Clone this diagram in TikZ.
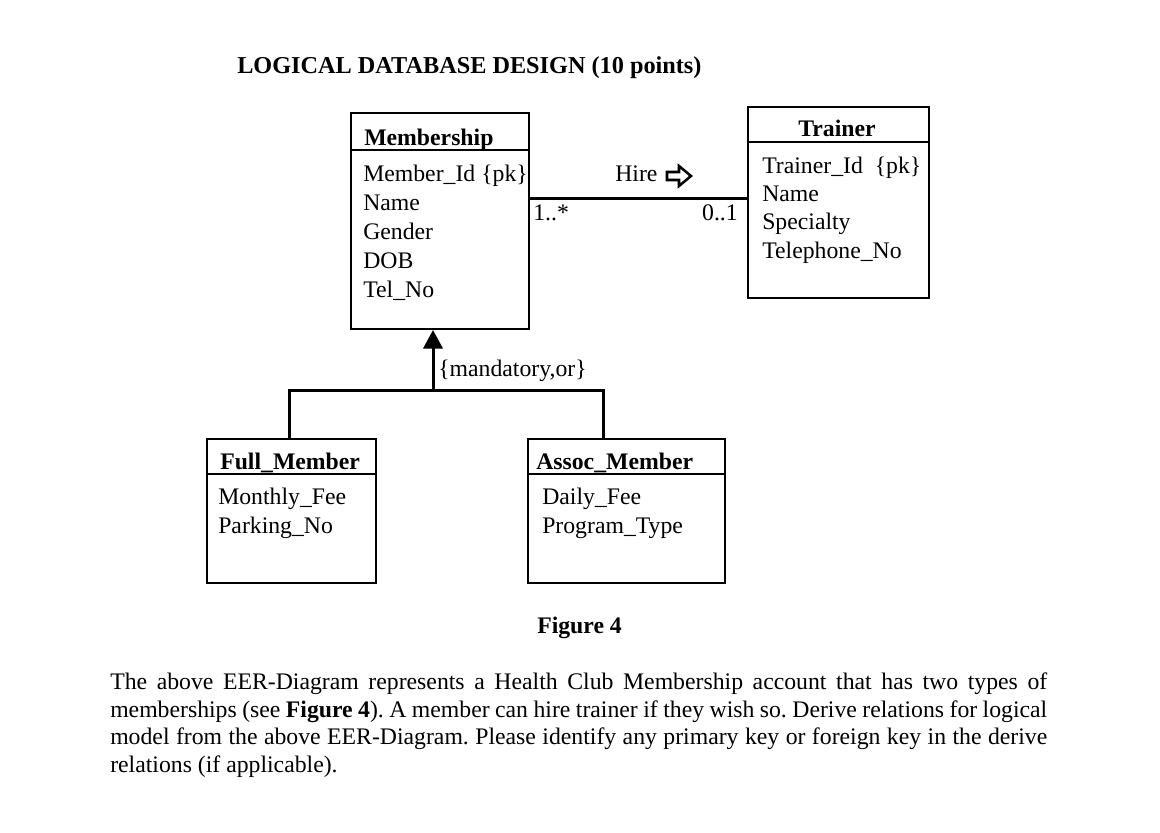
\documentclass[tikz,border=0pt]{standalone}
\usepackage{fontspec}
\setmainfont{Liberation Serif}
\usetikzlibrary{arrows.meta}
\newcommand{\txtfont}{\fontsize{17.8}{21}\selectfont}
\tikzset{
  ent/.style={draw, line width=1.5pt, inner sep=0pt},
  divider/.style={line width=1.5pt},
  lbl/.style={anchor=base west, inner sep=0pt, font=\txtfont},
  hdr/.style={anchor=base west, inner sep=0pt, font=\txtfont\bfseries},
  conn/.style={line width=2.25pt},
  bodyline/.style={anchor=base west, inner sep=0pt, font=\txtfont\frenchspacing},
}
\begin{document}
\begin{tikzpicture}[x=0.75pt,y=-0.75pt]
\fill[white] (0,0) rectangle (1160,832);
\useasboundingbox (0,0) rectangle (1160,832);

\node[hdr, font=\fontsize{18.2}{21}\selectfont\bfseries] (title) at (237,73) {LOGICAL DATABASE DESIGN (10 points)};

% Membership
\node[ent, minimum width=178*0.75pt, minimum height=216*0.75pt] (mem) at (440,221) {};
\draw[divider] (mem.west |- 0,150) -- (mem.east |- 0,150);
\node[hdr] (memh) at (364,145) {Membership};
\node[lbl] (mem1) at (363,181) {Member\_Id \{pk\}};
\node[lbl] (mem2) at (363,210) {Name};
\node[lbl] (mem3) at (363,239) {Gender};
\node[lbl] (mem4) at (363,268) {DOB};
\node[lbl] (mem5) at (363,297) {Tel\_No};

% Trainer
\node[ent, minimum width=181*0.75pt, minimum height=191*0.75pt] (trn) at (838.5,202.5) {};
\draw[divider] (trn.west |- 0,142) -- (trn.east |- 0,142);
\node[hdr, anchor=base] (trnh) at (837,136) {Trainer};
\node[lbl] (trn1) at (762,173) {Trainer\_Id\ \ \{pk\}};
\node[lbl] (trn2) at (762,201) {Name};
\node[lbl] (trn3) at (762,229) {Specialty};
\node[lbl] (trn4) at (762,258) {Telephone\_No};

% Full_Member
\node[ent, minimum width=169*0.75pt, minimum height=144*0.75pt] (full) at (291.5,511) {};
\draw[divider] (full.west |- 0,474) -- (full.east |- 0,474);
\node[hdr] (fullh) at (220,469) {Full\_Member};
\node[lbl] (full1) at (218,504) {Monthly\_Fee};
\node[lbl] (full2) at (218,533) {Parking\_No};

% Assoc_Member
\node[ent, minimum width=197*0.75pt, minimum height=144*0.75pt] (assoc) at (626.5,511) {};
\draw[divider] (assoc.west |- 0,474) -- (assoc.east |- 0,474);
\node[hdr] (assoch) at (536,469) {Assoc\_Member};
\node[lbl] (assoc1) at (542,504) {Daily\_Fee};
\node[lbl] (assoc2) at (542,533) {Program\_Type};

% Hire association
\coordinate (hy) at (640,198);
\draw[conn] (mem.east |- hy) -- (trn.west |- hy);
\node[lbl] (hire) at (615,181) {Hire};
\draw[line width=1.9pt, line join=miter]
  (667,172) -- (679,172) -- (679,166) -- (691,176) -- (679,186)
  -- (679,180) -- (667,180) -- cycle;
\node[lbl] (m1) at (533,220) {1..*};
\node[lbl, anchor=base east] (m2) at (738,220) {0..1};

% Generalisation
\coordinate (j) at (433,390);
\coordinate (fj) at (289,390);
\coordinate (aj) at (603,390);
\draw[conn] (full.north -| fj) -- (fj) -- (aj) -- (assoc.north -| aj);
\draw[conn, -{Triangle[width=14.5pt,length=14pt]}] (j) -- (mem.south -| j);
\node[lbl] (constr) at (438,376) {\{mandatory,or\}};

% Caption and text
\node[hdr] (fig) at (537,633) {Figure 4};
\node[bodyline] (p1) at (110,689) {\makebox[702.75pt][s]{The above EER-Diagram represents a Health Club Membership account that has two types of}};
\node[bodyline] (p2) at (110,717) {\makebox[702.75pt][s]{memberships (see \textbf{Figure 4}). A member can hire trainer if they wish so. Derive relations for logical}};
\node[bodyline] (p3) at (110,744) {\makebox[702.75pt][s]{model from the above EER-Diagram. Please identify any primary key or foreign key in the derive}};
\node[bodyline] (p4) at (110,772) {relations (if applicable).};
\end{tikzpicture}
\end{document}
